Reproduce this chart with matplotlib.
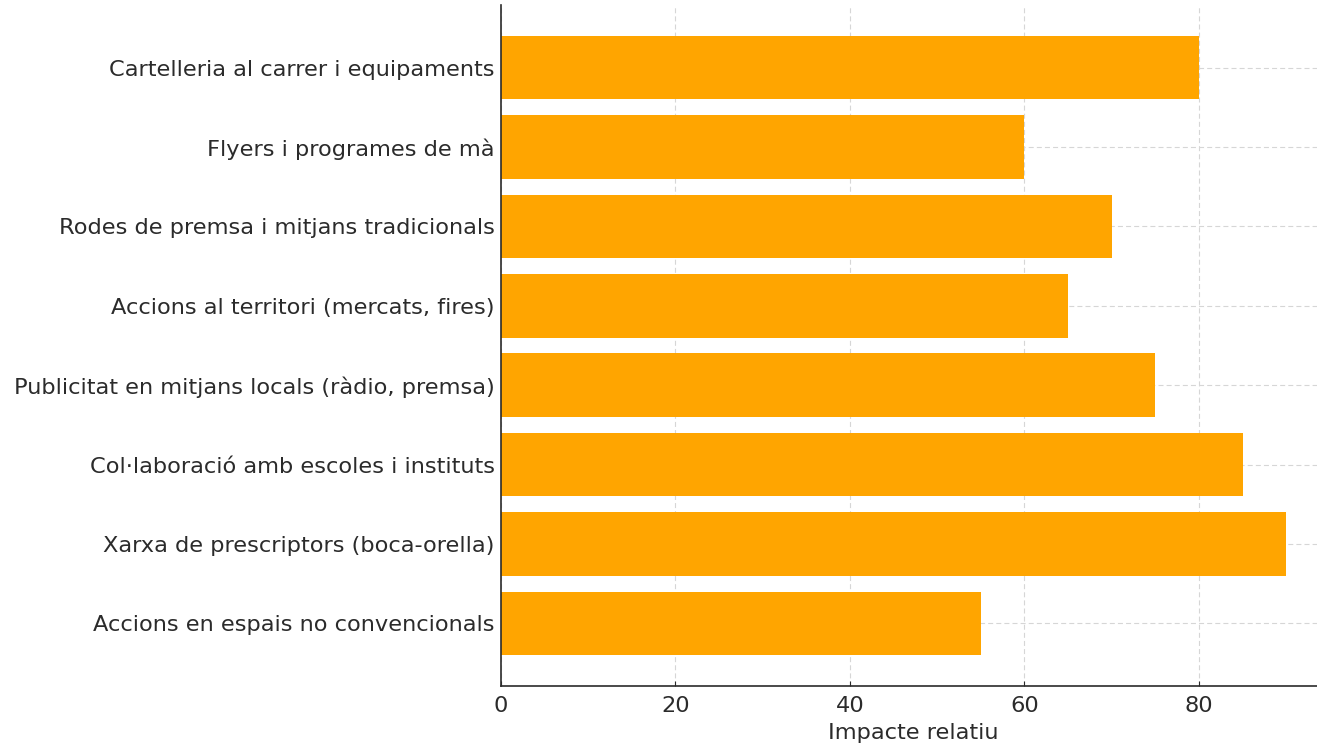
import matplotlib
matplotlib.use('Agg')
import matplotlib.pyplot as plt

categories = [
    'Cartelleria al carrer i equipaments',
    'Flyers i programes de mà',
    'Rodes de premsa i mitjans tradicionals',
    'Accions al territori (mercats, fires)',
    'Publicitat en mitjans locals (ràdio, premsa)',
    'Col·laboració amb escoles i instituts',
    'Xarxa de prescriptors (boca-orella)',
    'Accions en espais no convencionals',
]
impact = [80, 60, 70, 65, 75, 85, 90, 55]

plt.rcParams['font.family'] = ['DejaVu Sans']
plt.rcParams['font.size'] = 16.2
text_color = '#2b2b2b'

fig = plt.figure(figsize=(13.17, 7.49), dpi=100)
ax = fig.add_axes([0.3804, 0.0841, 0.626, 0.9092])

ax.barh(categories, impact, color='orange', height=0.8, zorder=2)
ax.invert_yaxis()

ax.set_xlabel('Impacte relatiu', color=text_color, labelpad=5)
ax.grid(True, linestyle=(0, (4.5, 2.8)), color='#d6d6d6', linewidth=0.8, zorder=0)
ax.tick_params(direction='in', colors=text_color, labelsize=16.2)
ax.tick_params(axis='y', pad=4.5)
ax.tick_params(axis='x', pad=7)
for side in ['top', 'right']:
    ax.spines[side].set_visible(False)
for side in ['left', 'bottom']:
    ax.spines[side].set_color(text_color)
    ax.spines[side].set_linewidth(1.2)

fig.savefig('out.png', dpi=100)
